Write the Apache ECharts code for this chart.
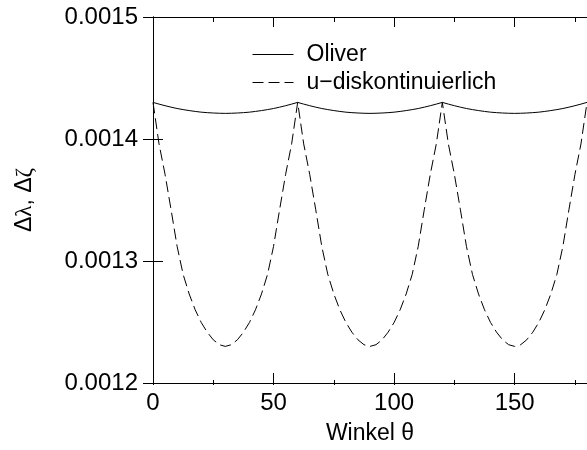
<!DOCTYPE html>
<html>
<head>
<meta charset="utf-8">
<script src="https://cdn.jsdelivr.net/npm/echarts@6/dist/echarts.min.js"></script>
<style>
  html, body { margin: 0; padding: 0; background: #fff; }
  #chart { width: 587px; height: 450px; }
</style>
</head>
<body>
<div id="chart"></div>
<script>
// angle samples (degrees)
var theta = [
  0, 2.5, 5, 7.5, 10, 12.5, 15, 17.5, 20, 22.5, 25, 27.5,
  30, 32.5, 35, 37.5, 40, 42.5, 45, 47.5, 50, 52.5, 55, 57.5,
  60, 62.5, 65, 67.5, 70, 72.5, 75, 77.5, 80, 82.5, 85, 87.5,
  90, 92.5, 95, 97.5, 100, 102.5, 105, 107.5, 110, 112.5, 115, 117.5,
  120, 122.5, 125, 127.5, 130, 132.5, 135, 137.5, 140, 142.5, 145, 147.5,
  150, 152.5, 155, 157.5, 160, 162.5, 165, 167.5, 170, 172.5, 175, 177.5,
  180
];

// Oliver (solid)
var oliver = [
  0.0014300, 0.0014286, 0.0014273, 0.0014261, 0.0014250, 0.0014241, 0.0014233, 0.0014226, 0.0014220, 0.0014216, 0.0014213, 0.0014211,
  0.0014210, 0.0014211, 0.0014213, 0.0014216, 0.0014220, 0.0014226, 0.0014233, 0.0014241, 0.0014250, 0.0014261, 0.0014273, 0.0014286,
  0.0014300, 0.0014286, 0.0014273, 0.0014261, 0.0014250, 0.0014241, 0.0014233, 0.0014226, 0.0014220, 0.0014216, 0.0014213, 0.0014211,
  0.0014210, 0.0014211, 0.0014213, 0.0014216, 0.0014220, 0.0014226, 0.0014233, 0.0014241, 0.0014250, 0.0014261, 0.0014273, 0.0014286,
  0.0014300, 0.0014286, 0.0014273, 0.0014261, 0.0014250, 0.0014241, 0.0014233, 0.0014226, 0.0014220, 0.0014216, 0.0014213, 0.0014211,
  0.0014210, 0.0014211, 0.0014213, 0.0014216, 0.0014220, 0.0014226, 0.0014233, 0.0014241, 0.0014250, 0.0014261, 0.0014273, 0.0014286,
  0.0014300
];

// u-diskontinuierlich (dashed)
var uDisk = [
  0.0014300, 0.0013960, 0.0013710, 0.0013420, 0.0013120, 0.0012890, 0.0012730, 0.0012600, 0.0012496, 0.0012416, 0.0012354, 0.0012314,
  0.0012300, 0.0012314, 0.0012354, 0.0012416, 0.0012496, 0.0012600, 0.0012730, 0.0012890, 0.0013120, 0.0013420, 0.0013710, 0.0013960,
  0.0014300, 0.0013960, 0.0013710, 0.0013420, 0.0013120, 0.0012890, 0.0012730, 0.0012600, 0.0012496, 0.0012416, 0.0012354, 0.0012314,
  0.0012300, 0.0012314, 0.0012354, 0.0012416, 0.0012496, 0.0012600, 0.0012730, 0.0012890, 0.0013120, 0.0013420, 0.0013710, 0.0013960,
  0.0014300, 0.0013960, 0.0013710, 0.0013420, 0.0013120, 0.0012890, 0.0012730, 0.0012600, 0.0012496, 0.0012416, 0.0012354, 0.0012314,
  0.0012300, 0.0012314, 0.0012354, 0.0012416, 0.0012496, 0.0012600, 0.0012730, 0.0012890, 0.0013120, 0.0013420, 0.0013710, 0.0013960,
  0.0014300
];

var seriesNames = ['Oliver', 'u\u2212diskontinuierlich'];

var FONT = 'Liberation Sans, Arial, Helvetica, sans-serif';
var chart = echarts.init(document.getElementById('chart'));

function pairs(ys) {
  return theta.map(function (t, i) { return [t, ys[i]]; });
}

var box = { left: 153, top: 17, width: 441, height: 368 };
var axisLine = { lineStyle: { color: '#000', width: 1 } };

chart.setOption({
  animation: false,
  backgroundColor: '#fff',
  grid: [box, box],
  legend: {
    orient: 'vertical',
    left: 252,
    top: 43,
    padding: 0,
    itemWidth: 41,
    itemHeight: 14,
    itemGap: 5,
    itemStyle: { opacity: 0 },
    lineStyle: { width: 1 },
    textStyle: { fontSize: 23, fontFamily: FONT, color: '#000', lineHeight: 23, padding: [0, 0, 0, 8] },
    data: seriesNames
  },
  xAxis: [
    {
      type: 'value', gridIndex: 0, position: 'bottom', min: 0, max: 180, interval: 50,
      axisLine: axisLine, splitLine: { show: false },
      axisTick: { inside: true, length: 10, lineStyle: { color: '#000' } },
      axisLabel: { fontSize: 24, fontFamily: FONT, color: '#000', margin: 8, showMaxLabel: false },
      name: 'Winkel \u03b8', nameLocation: 'middle', nameGap: 39,
      nameTextStyle: { fontSize: 23, fontFamily: FONT, color: '#000' }
    },
    {
      type: 'value', gridIndex: 0, position: 'top', min: 0, max: 180, interval: 50,
      axisLine: axisLine, splitLine: { show: false },
      axisTick: { inside: true, length: 10, lineStyle: { color: '#000' } },
      axisLabel: { show: false }
    },
    {
      type: 'value', gridIndex: 1, position: 'bottom', min: 0, max: 180, interval: 25,
      axisLine: { show: false }, splitLine: { show: false },
      axisTick: { inside: true, length: 5, lineStyle: { color: '#000' } },
      axisLabel: { show: false }
    },
    {
      type: 'value', gridIndex: 1, position: 'top', min: 0, max: 180, interval: 25,
      axisLine: { show: false }, splitLine: { show: false },
      axisTick: { inside: true, length: 5, lineStyle: { color: '#000' } },
      axisLabel: { show: false }
    }
  ],
  yAxis: [
    {
      type: 'value', gridIndex: 0, position: 'left', min: 0.0012, max: 0.0015, interval: 0.0001,
      axisLine: axisLine, splitLine: { show: false },
      axisTick: { inside: true, length: 10, lineStyle: { color: '#000' } },
      axisLabel: {
        fontSize: 24, fontFamily: FONT, color: '#000', margin: 15,
        formatter: function (v) { return v.toFixed(4); }
      },
      name: '\u0394{g|\u03bb}, \u0394{g|\u03b6}', nameLocation: 'middle', nameGap: 117,
      nameTextStyle: {
        fontSize: 23, fontFamily: FONT, color: '#000',
        rich: { g: { fontSize: 23, fontFamily: 'Liberation Serif, DejaVu Serif, serif', color: '#000' } }
      }
    },
    {
      type: 'value', gridIndex: 0, position: 'right', min: 0.0012, max: 0.0015, interval: 0.0001,
      axisLine: axisLine, splitLine: { show: false },
      axisTick: { inside: true, length: 10, lineStyle: { color: '#000' } },
      axisLabel: { show: false }
    },
    {
      type: 'value', gridIndex: 1, min: 0.0012, max: 0.0015, show: false
    }
  ],
  series: [
    {
      name: seriesNames[0], type: 'line', xAxisIndex: 0, yAxisIndex: 0,
      symbol: 'none', smooth: false,
      lineStyle: { color: '#000', width: 1, type: 'solid' },
      itemStyle: { color: '#000' },
      data: pairs(oliver)
    },
    {
      name: seriesNames[1], type: 'line', xAxisIndex: 0, yAxisIndex: 0,
      symbol: 'none', smooth: false,
      lineStyle: { color: '#000', width: 1, type: [11, 5] },
      itemStyle: { color: '#000' },
      data: pairs(uDisk)
    }
  ]
});
</script>
</body>
</html>
